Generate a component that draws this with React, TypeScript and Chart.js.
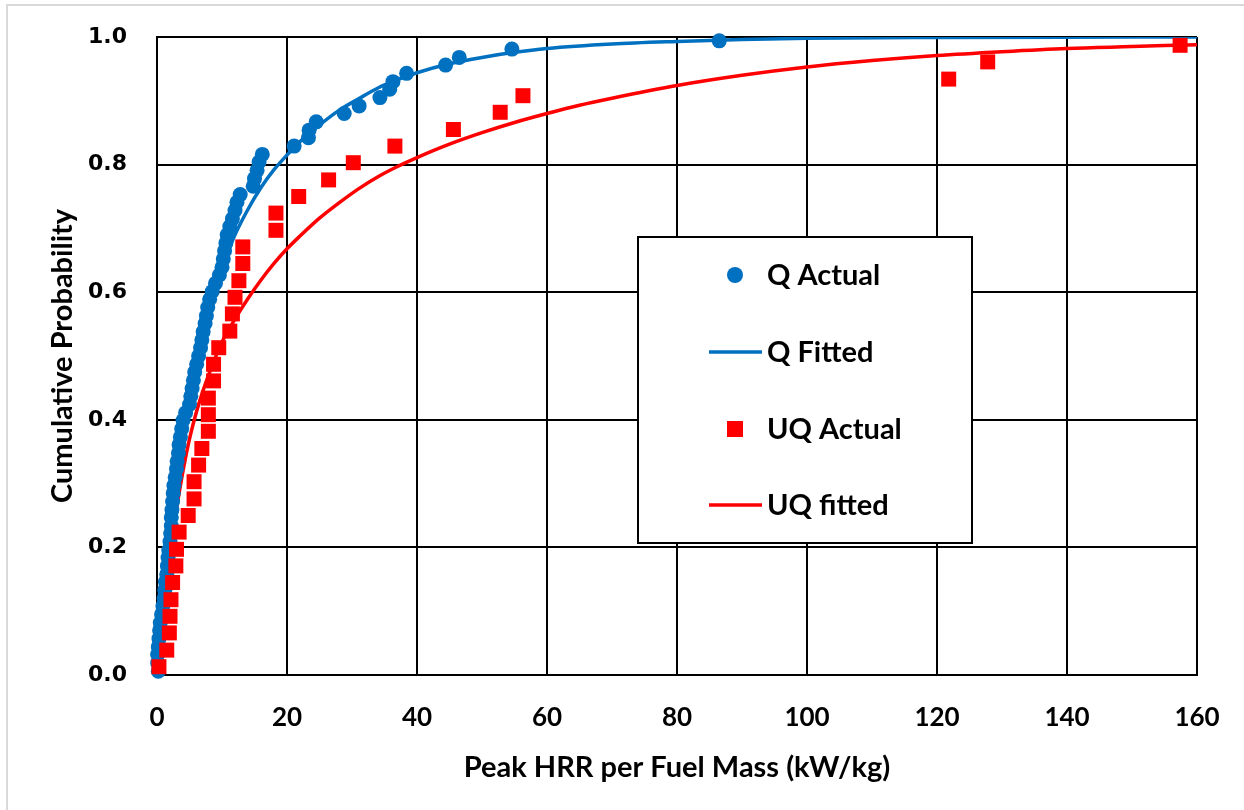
import React, { useEffect, useRef } from "react";
import { Chart, registerables } from "chart.js";

Chart.register(...registerables);

// ---------- data ----------
const seriesLabels = ["Q Actual", "Q Fitted", "UQ Actual", "UQ fitted"];

const qActualX = [
  0.2, 0.1, 0.1, 0.2, 0.3, 0.4, 0.5, 0.7, 0.9, 1.1,
  1.2, 1.3, 1.5, 1.6, 1.7, 1.8, 2.0, 2.1, 2.2, 2.2,
  2.3, 2.4, 2.5, 2.6, 2.8, 3.0, 3.1, 3.3, 3.4, 3.6,
  3.8, 4.0, 4.4, 5.0, 5.2, 5.4, 5.6, 5.8, 6.1, 6.4,
  6.7, 6.9, 7.1, 7.4, 7.6, 7.8, 8.1, 8.5, 9.0, 9.6,
  10.0, 10.2, 10.4, 10.6, 10.8, 11.2, 11.6, 12.0, 12.3, 12.8,
  14.8, 15.0, 15.4, 15.7, 16.2, 21.1, 23.3, 23.4, 24.5, 28.8,
  31.1, 34.3, 35.8, 36.3, 38.4, 44.4, 46.5, 54.6, 86.5,
];
const qActualY = [
  0.006, 0.019, 0.032, 0.044, 0.057, 0.070, 0.082, 0.095, 0.108, 0.120,
  0.133, 0.146, 0.158, 0.171, 0.184, 0.196, 0.209, 0.222, 0.234, 0.247,
  0.259, 0.272, 0.285, 0.297, 0.310, 0.323, 0.335, 0.348, 0.361, 0.373,
  0.386, 0.399, 0.411, 0.424, 0.437, 0.449, 0.462, 0.475, 0.487, 0.500,
  0.513, 0.525, 0.538, 0.551, 0.563, 0.576, 0.589, 0.601, 0.614, 0.627,
  0.639, 0.652, 0.665, 0.677, 0.690, 0.703, 0.715, 0.728, 0.741, 0.753,
  0.766, 0.778, 0.791, 0.804, 0.816, 0.829, 0.842, 0.854, 0.867, 0.880,
  0.892, 0.905, 0.918, 0.930, 0.943, 0.956, 0.968, 0.981, 0.994,
];

const qFittedX = [
  0, 0.5, 1, 2, 3, 4, 5, 6, 7, 8, 9, 10, 12, 14, 16, 18, 20, 22, 25, 28,
  31, 34, 37, 40, 45, 50, 55, 60, 70, 80, 90, 100, 120, 140, 160,
];
const qFittedY = [
  0, 0.09, 0.16, 0.26, 0.34, 0.405, 0.46, 0.505, 0.545, 0.58, 0.612, 0.641, 0.69, 0.73, 0.764, 0.792, 0.815, 0.836, 0.862, 0.885,
  0.903, 0.92, 0.933, 0.944, 0.958, 0.968, 0.976, 0.982, 0.989, 0.993, 0.996, 0.998, 0.9993, 0.9998, 1.0,
];

const uqActualX = [
  0.3, 1.5, 1.9, 2.0, 2.15, 2.4, 2.9, 3.0, 3.4, 4.8,
  5.7, 5.7, 6.4, 6.9, 7.9, 7.9, 7.9, 8.7, 8.7, 9.5,
  11.2, 11.6, 12.0, 12.6, 13.2, 13.2, 18.3, 18.3, 21.8, 26.4,
  30.2, 36.6, 45.6, 52.8, 56.3, 121.8, 127.8, 157.4,
];
const uqActualY = [
  0.013, 0.039, 0.066, 0.092, 0.118, 0.145, 0.171, 0.197, 0.224, 0.250,
  0.276, 0.303, 0.329, 0.355, 0.382, 0.408, 0.434, 0.461, 0.487, 0.513,
  0.539, 0.566, 0.592, 0.618, 0.645, 0.671, 0.697, 0.724, 0.750, 0.776,
  0.803, 0.829, 0.855, 0.882, 0.908, 0.934, 0.961, 0.987,
];

const uqFittedX = [
  0, 0.5, 1, 2, 3, 4, 5, 6, 7, 8, 9, 10, 12, 14, 16, 18, 20, 22, 25, 28,
  31, 34, 37, 40, 45, 50, 55, 60, 65, 70, 80, 90, 100, 110, 120, 130, 140, 150, 160,
];
const uqFittedY = [
  0, 0.06, 0.11, 0.19, 0.26, 0.32, 0.37, 0.41, 0.443, 0.472, 0.498, 0.522, 0.558, 0.59, 0.619, 0.645, 0.668, 0.688, 0.716, 0.74,
  0.762, 0.781, 0.797, 0.811, 0.832, 0.85, 0.866, 0.88, 0.893, 0.904, 0.924, 0.94, 0.953, 0.963, 0.971, 0.977, 0.982, 0.985, 0.988,
];

const xTickValues = [0, 20, 40, 60, 80, 100, 120, 140, 160];
const yTickValues = [0, 0.2, 0.4, 0.6, 0.8, 1.0];

const xTitle = "Peak HRR per Fuel Mass (kW/kg)";
const yTitle = "Cumulative Probability";

// ---------- styles ----------
const BLUE = "#0070C0";
const RED = "#FF0000";
const LATO = "Lato, 'Open Sans', sans-serif";

const toPts = (xs: number[], ys: number[]) => xs.map((x, i) => ({ x, y: ys[i] }));

const framePlugin = {
  id: "frame",
  beforeDraw(chart: any) {
    const { ctx, width, height } = chart;
    ctx.save();
    ctx.fillStyle = "#ffffff";
    ctx.fillRect(0, 0, width, height);
    ctx.strokeStyle = "#d9d9d9";
    ctx.lineWidth = 2;
    ctx.strokeRect(7, 5, width + 20, height + 20);
    ctx.restore();
  },
};

const legendBoxPlugin = {
  id: "legendBox",
  afterDraw(chart: any) {
    const { ctx } = chart;
    const left = 638, top = 237, right = 972, bottom = 543;
    ctx.save();
    ctx.fillStyle = "#ffffff";
    ctx.fillRect(left, top, right - left, bottom - top);
    ctx.strokeStyle = "#000000";
    ctx.lineWidth = 2;
    ctx.strokeRect(left, top, right - left, bottom - top);
    const rows = [275, 352, 429, 505];
    const textX = 767;
    const kinds = ["circle", "line", "rect", "line"];
    const colors = [BLUE, BLUE, RED, RED];
    ctx.font = `bold 29px ${LATO}`;
    ctx.textBaseline = "middle";
    ctx.textAlign = "left";
    seriesLabels.forEach((label, i) => {
      const y = rows[i];
      ctx.fillStyle = colors[i];
      ctx.strokeStyle = colors[i];
      if (kinds[i] === "circle") {
        ctx.beginPath();
        ctx.arc(735, y, 8, 0, Math.PI * 2);
        ctx.fill();
      } else if (kinds[i] === "rect") {
        ctx.fillRect(727, y - 8, 16, 16);
      } else {
        ctx.lineWidth = 3.5;
        ctx.beginPath();
        ctx.moveTo(709, y);
        ctx.lineTo(762, y);
        ctx.stroke();
      }
      ctx.fillStyle = "#000000";
      ctx.fillText(label, textX, y + 1);
    });
    ctx.restore();
  },
};

export default function App() {
  const canvasRef = useRef<HTMLCanvasElement | null>(null);

  useEffect(() => {
    document.body.style.margin = "0";
    const canvas = canvasRef.current;
    if (!canvas) return;
    const chart = new Chart(canvas, {
      type: "scatter",
      data: {
        datasets: [
          {
            label: seriesLabels[2],
            data: toPts(uqActualX, uqActualY),
            pointStyle: "rect",
            pointRadius: 10.6,
            pointBackgroundColor: RED,
            pointBorderColor: RED,
            pointBorderWidth: 0,
            showLine: false,
            clip: false,
            order: 0,
          } as any,
          {
            label: seriesLabels[0],
            data: toPts(qActualX, qActualY),
            pointStyle: "circle",
            pointRadius: 7.5,
            pointBackgroundColor: BLUE,
            pointBorderColor: BLUE,
            pointBorderWidth: 0,
            showLine: false,
            clip: false,
            order: 0,
          } as any,
          {
            label: seriesLabels[3],
            data: toPts(uqFittedX, uqFittedY),
            showLine: true,
            borderColor: RED,
            borderWidth: 3.5,
            pointRadius: 0,
            cubicInterpolationMode: "monotone",
            order: 1,
          } as any,
          {
            label: seriesLabels[1],
            data: toPts(qFittedX, qFittedY),
            showLine: true,
            borderColor: BLUE,
            borderWidth: 3.5,
            pointRadius: 0,
            cubicInterpolationMode: "monotone",
            order: 1,
          } as any,
        ],
      },
      options: {
        animation: false,
        responsive: false,
        maintainAspectRatio: false,
        devicePixelRatio: 1,
        layout: { padding: { left: 0, top: 37, right: 47, bottom: 0 } },
        plugins: {
          legend: { display: false },
          tooltip: { enabled: false },
        },
        scales: {
          x: {
            type: "linear",
            min: 0,
            max: 160,
            afterFit(scale: any) {
              scale.height = 135;
            },
            afterBuildTicks(scale: any) {
              scale.ticks = xTickValues.map((v) => ({ value: v }));
            },
            ticks: {
              color: "#000",
              font: { family: LATO, size: 26, weight: "bold" },
              padding: 12,
              maxRotation: 0,
              autoSkip: false,
            },
            grid: { color: "#000", lineWidth: 2, drawTicks: true, tickLength: 15, tickColor: "rgba(0,0,0,0)" },
            border: { color: "#000", width: 2 },
            title: {
              display: true,
              text: xTitle,
              color: "#000",
              font: { family: LATO, size: 29, weight: "bold" },
              padding: { top: 0, bottom: 25 },
            },
          },
          y: {
            type: "linear",
            min: 0,
            max: 1,
            afterFit(scale: any) {
              scale.width = 157;
            },
            afterBuildTicks(scale: any) {
              scale.ticks = yTickValues.map((v) => ({ value: v }));
            },
            ticks: {
              color: "#000",
              font: { family: "'DejaVu Sans', Verdana, sans-serif", size: 22, weight: "bold" },
              padding: 18,
              callback: (v: any) => Number(v).toFixed(1),
            },
            grid: { color: "#000", lineWidth: 2, drawTicks: true, tickLength: 12, tickColor: "rgba(0,0,0,0)" },
            border: { color: "#000", width: 2 },
            title: {
              display: true,
              text: yTitle,
              color: "#000",
              font: { family: LATO, size: 29, weight: "bold" },
              padding: { top: 45, bottom: 0 },
            },
          },
        },
      },
      plugins: [framePlugin, legendBoxPlugin],
    });
    return () => chart.destroy();
  }, []);

  return (
    <div style={{ width: 1244, height: 810 }}>
      <canvas ref={canvasRef} width={1244} height={810} style={{ display: "block" }} />
    </div>
  );
}
